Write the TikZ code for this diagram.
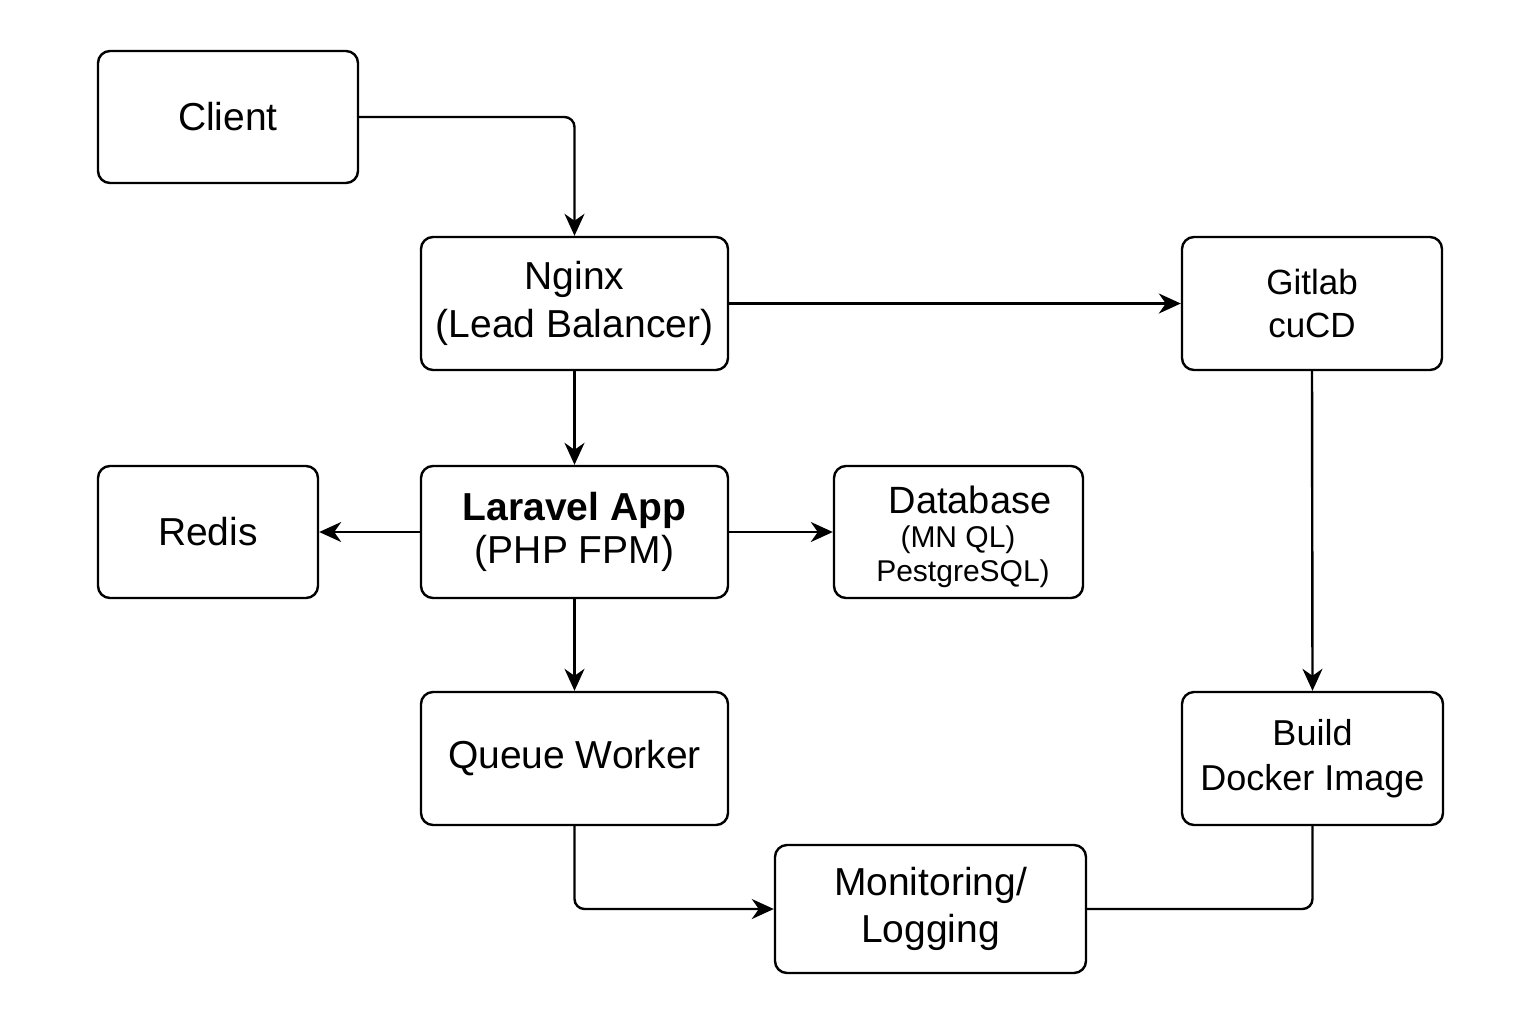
\documentclass[tikz,border=0pt]{standalone}
\usepackage{fontspec}
\setmainfont{Liberation Sans}
\usetikzlibrary{arrows.meta}
\begin{document}
\begin{tikzpicture}[x=0.5pt,y=-0.5pt,
  box/.style={draw, line width=1.2pt, rounded corners=6pt, align=center, inner sep=0pt, font=\fontsize{19.5}{24}\selectfont},
  lbl/.style={inner sep=0pt},
  conn/.style={line width=1.2pt, rounded corners=5pt},
  arr/.style={conn, -{Stealth[length=11pt,width=10pt,inset=3.5pt]}}]
\useasboundingbox[fill=white] (0,0) rectangle (1536,1024);
\node[box, minimum width=130pt, minimum height=66pt] (client) at (228,117) {Client};
\node[box, minimum width=153.5pt, minimum height=66.5pt] (nginx) at (574.5,303.5) {Nginx\\(Lead Balancer)};
\node[box, minimum width=130pt, minimum height=66.5pt, font=\fontsize{17.5}{21.5}\selectfont] (gitlab) at (1312,303.5) {Gitlab\\cuCD};
\node[box, minimum width=110pt, minimum height=66pt] (redis) at (208,532) {Redis};
\node[box, minimum width=153.5pt, minimum height=66pt, font=\fontsize{19.5}{21.5}\selectfont] (laravel) at (574.5,532) {\textbf{Laravel App}\\(PHP FPM)};
\node[box, minimum width=124.5pt, minimum height=66pt] (db) at (958.5,532) {};
\node[lbl, font=\fontsize{19}{22}\selectfont] (dbt1) at (970,500) {Database};
\node[lbl, font=\fontsize{15}{18}\selectfont] (dbt2) at (958,540) {(MN QL)};
\node[lbl, font=\fontsize{15}{18}\selectfont] (dbt3) at (963,574) {PestgreSQL)};
\node[box, minimum width=153.5pt, minimum height=66.5pt] (queue) at (574.5,758.5) {Queue Worker};
\node[box, minimum width=130.5pt, minimum height=66.5pt, font=\fontsize{18}{22.5}\selectfont] (build) at (1312.5,758.5) {Build\\Docker Image};
\node[box, minimum width=155.5pt, minimum height=64pt, font=\fontsize{19.5}{23.5}\selectfont] (mon) at (930.5,909) {Monitoring/\\Logging};
\draw[arr] (client.east) -| (nginx.north);
\draw[arr] (nginx.east) -- (gitlab.west);
\draw[arr] (nginx.south) -- (laravel.north);
\draw[arr] (laravel.west) -- (redis.east);
\draw[arr] (laravel.east) -- (db.west);
\draw[arr] (laravel.south) -- (queue.north);
\draw[arr] (gitlab.south) -- (build.north);
\draw[arr] (queue.south) |- (mon.west);
\draw[conn] (build.south) |- (mon.east);
\end{tikzpicture}
\end{document}
